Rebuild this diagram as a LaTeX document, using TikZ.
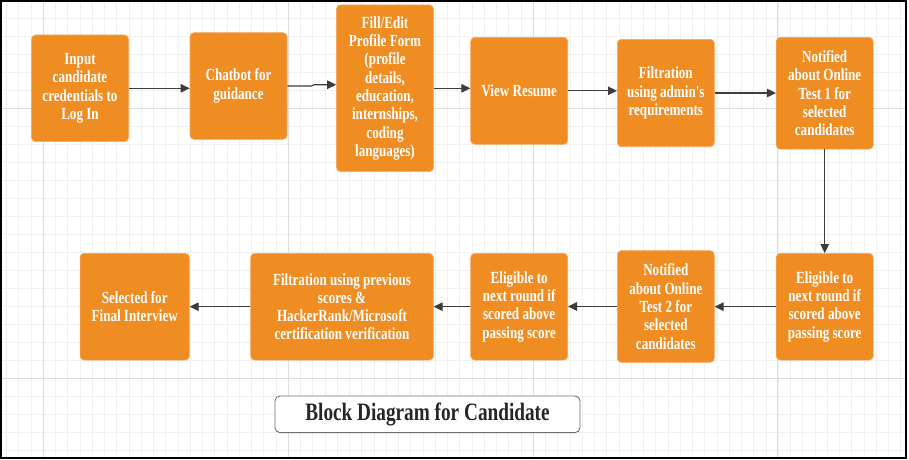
\documentclass[tikz,border=0pt]{standalone}
\usepackage{fontspec}
\setmainfont{Liberation Serif}
\newfontfamily\boxfont{Liberation Serif}[FakeStretch=0.77]
\usetikzlibrary{arrows.meta}
\definecolor{boxorange}{HTML}{EF8C22}
\definecolor{boxedge}{HTML}{F6A860}
\definecolor{arrowgrey}{HTML}{3C3C3C}
\definecolor{gridminor}{HTML}{F0F0F0}
\definecolor{gridmajor}{HTML}{DEDEDE}
\definecolor{titleedge}{HTML}{6E6E6E}
\definecolor{titletext}{HTML}{262626}
\begin{document}
\begin{tikzpicture}[x=1pt,y=-1pt,
  blk/.style={draw=boxedge, line width=0.6pt, fill=boxorange, rounded corners=4pt,
    text=white, align=center, inner sep=0pt, minimum width=97pt,
    font=\boxfont\bfseries\fontsize{17}{18.3}\selectfont},
  arr/.style={draw=arrowgrey, line width=1.1pt, -{Triangle[length=9pt,width=8.5pt]}},
  titlebox/.style={draw=titleedge, line width=0.9pt, rounded corners=5pt, fill=white,
    inner sep=0pt, text=titletext,
    font=\boxfont\bfseries\fontsize{25}{27}\selectfont}]
\useasboundingbox (0,0) rectangle (909,459);
\fill[white] (0,0) rectangle (909,459);
% grid
\foreach \i in {0,...,73} \draw[gridminor, line width=0.8pt] ({6.55+\i*12.25},0) -- ++(0,459);
\foreach \j in {1,...,25} \draw[gridminor, line width=0.8pt] (0,{\j*18}) -- ++(909,0);
\foreach \x in {43.3,288.3,533.3,777.3} \draw[gridmajor, line width=1pt] (\x,0) -- ++(0,459);
\foreach \y in {108,378} \draw[gridmajor, line width=1pt] (0,\y) -- ++(909,0);
\fill[white] (906.8,0) rectangle (909,459);
\draw[black, line width=1.6pt] (0.8,0.8) rectangle (906,458.2);
% top row
\node[blk, minimum height=106.7pt] (b1) at (80,88.3) {Input\\candidate\\credentials to\\Log In};
\node[blk, minimum height=106.6pt] (b2) at (238.5,86) {Chatbot for\\guidance};
\node[blk, minimum height=166.7pt] (b3) at (385,88.3) {Fill/Edit\\Profile Form\\(profile\\details,\\education,\\internships,\\coding\\languages)};
\node[blk, minimum height=107pt] (b4) at (519.2,90.8) {View Resume};
\node[blk, minimum height=107.4pt] (b5) at (665.8,93) {Filtration\\using admin's\\requirements};
\node[blk, minimum height=111.7pt] (b6) at (824.7,93.2) {Notified\\about Online\\Test 1 for\\selected\\candidates};
% bottom row
\node[blk, minimum height=106.7pt] (b7) at (824.7,306.7) {Eligible to\\next round if\\scored above\\passing score};
\node[blk, minimum height=111.6pt] (b8) at (665.8,306.5) {Notified\\about Online\\Test 2 for\\selected\\candidates};
\node[blk, minimum height=106.7pt] (b9) at (519.2,306.7) {Eligible to\\next round if\\scored above\\passing score};
\node[blk, minimum height=106.7pt, minimum width=182.7pt] (b10) at (342,306.7) {Filtration using previous\\scores \&\\HackerRank/Microsoft\\certification verification};
\node[blk, minimum height=106.7pt, minimum width=109.3pt] (b11) at (134.7,306.7) {Selected for\\Final Interview};
% title
\node[titlebox, minimum width=305pt, minimum height=36.7pt] (title) at (427.5,414.3) {Block Diagram for Candidate};
% connectors
\draw[arr] (b1.east) -- (b2.west |- b1.east);
\draw[arr] (b2.east) -- ++(24,0) -- ++(3,-1.3) -- ([yshift=3.6pt]b3.west);
\draw[arr] (b3.east) -- (b4.west |- b3.east);
\draw[arr] (b4.east) -- (b5.west |- b4.east);
\draw[arr] (b5.east) -- (b6.west |- b5.east);
\draw[arr] (b6.south) -- (b7.north);
\draw[arr] (b7.west) -- (b8.east |- b7.west);
\draw[arr] (b8.west) -- (b9.east |- b8.west);
\draw[arr] (b9.west) -- (b10.east |- b9.west);
\draw[arr] (b10.west) -- (b11.east |- b10.west);
\end{tikzpicture}
\end{document}
